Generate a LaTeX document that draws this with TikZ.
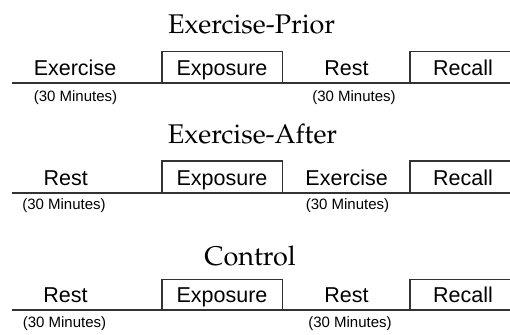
\documentclass[tikz,border=0pt]{standalone}
\usepackage[T1]{fontenc}
\usepackage{fontspec}
\setmainfont{Liberation Sans}
\newcommand\ttlfont{\fontencoding{T1}\fontfamily{ppl}\selectfont}
\begin{document}
\begin{tikzpicture}[x=1pt,y=-1pt,
  lbl/.style={font=\fontsize{21.5}{24}\selectfont, anchor=base, inner sep=0pt, text=black},
  mins/.style={font=\fontsize{15}{17}\selectfont, anchor=base, inner sep=0pt, text=black},
  ttl/.style={font=\ttlfont\fontsize{27}{30}\selectfont, anchor=base, inner sep=0pt, text=black},
  tl/.style={line width=1.6pt, draw=black!80}]
\useasboundingbox (0,0) rectangle (510,334);
% Row 1
\node[ttl] (t1) at (251.5,33.3) {Exercise-Prior};
\draw[tl] (12,83.3) -- (515,83.3);
\draw[tl] (161.7,83.3) rectangle (282.3,51.7);
\draw[tl] (410,83.3) -- (410,51.7) -- (518,51.7) -- (518,83.3);
\node[lbl] (a1) at (75,76) {Exercise};
\node[lbl] (b1) at (222,76) {Exposure};
\node[lbl] (c1) at (346.5,76) {Rest};
\node[lbl] (d1) at (463,76) {Recall};
\node[mins] (m1a) at (75.5,102) {(30 Minutes)};
\node[mins] (m1b) at (354,102) {(30 Minutes)};
% Row 2
\node[ttl] (t2) at (252.5,143) {Exercise-After};
\draw[tl] (12,192.7) -- (515,192.7);
\draw[tl] (161.7,192.7) rectangle (282.3,160.7);
\draw[tl] (410,192.7) -- (410,160.7) -- (518,160.7) -- (518,192.7);
\node[lbl] (a2) at (65.7,185.4) {Rest};
\node[lbl] (b2) at (222,185.4) {Exposure};
\node[lbl] (c2) at (346.7,185.4) {Exercise};
\node[lbl] (d2) at (463,185.4) {Recall};
\node[mins] (m2a) at (64,209) {(30 Minutes)};
\node[mins] (m2b) at (347.5,209) {(30 Minutes)};
% Row 3
\node[ttl] (t3) at (250,265) {Control};
\draw[tl] (12,310) -- (515,310);
\draw[tl] (161.7,310) rectangle (282.3,279.3);
\draw[tl] (410,310) -- (410,279.3) -- (518,279.3) -- (518,310);
\node[lbl] (a3) at (65.5,302.7) {Rest};
\node[lbl] (b3) at (222,302.7) {Exposure};
\node[lbl] (c3) at (346.5,302.7) {Rest};
\node[lbl] (d3) at (463,302.7) {Recall};
\node[mins] (m3a) at (64.5,327) {(30 Minutes)};
\node[mins] (m3b) at (350,327) {(30 Minutes)};
\end{tikzpicture}
\end{document}
